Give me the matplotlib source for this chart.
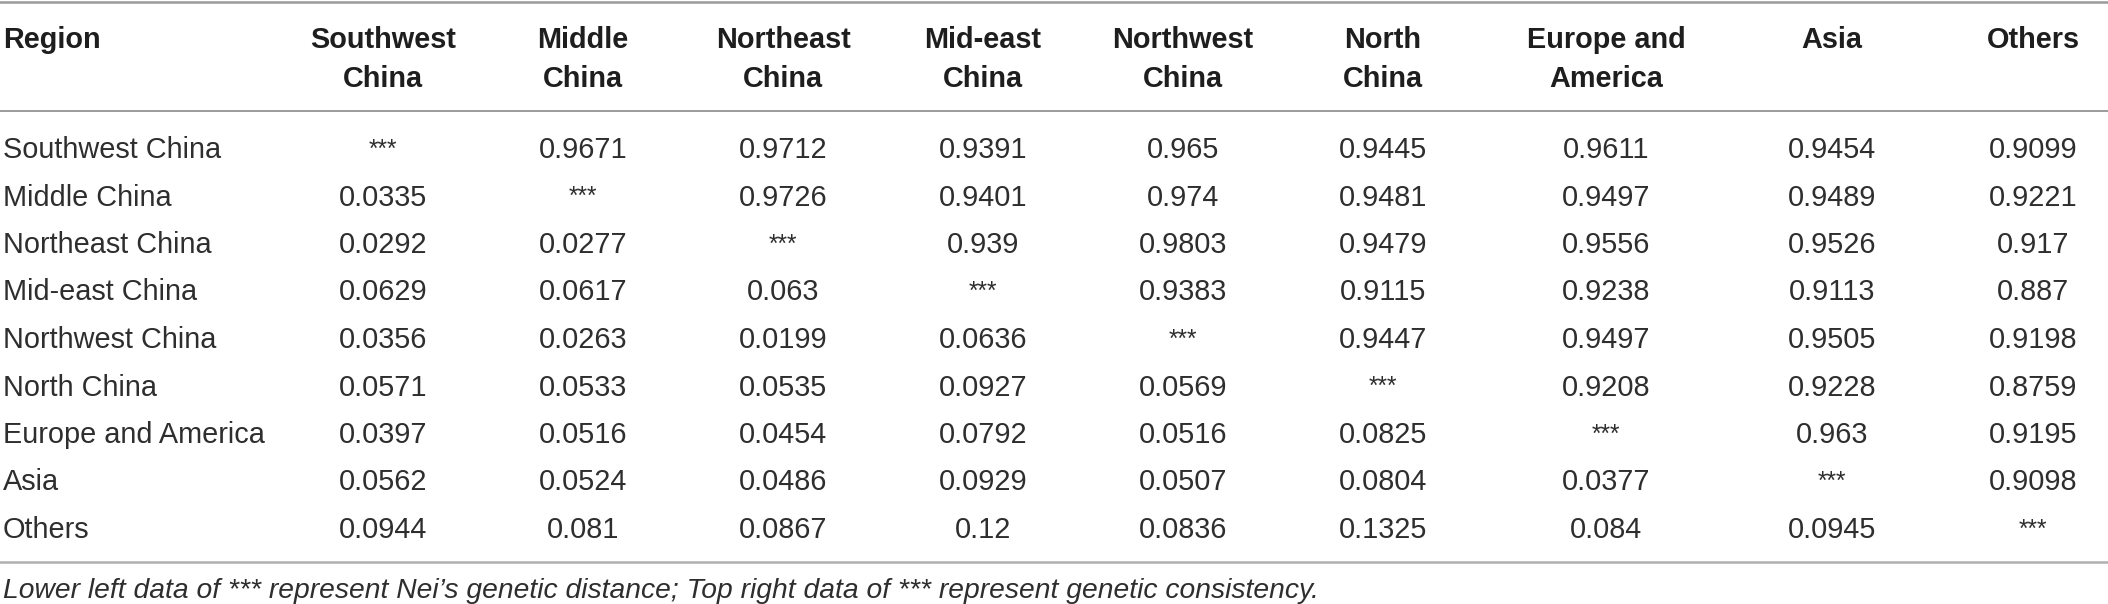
import matplotlib.pyplot as plt

plt.rcParams['font.family'] = ['Liberation Sans', 'DejaVu Sans']

regions = ["Southwest China", "Middle China", "Northeast China", "Mid-east China",
           "Northwest China", "North China", "Europe and America", "Asia", "Others"]
col_headers = ["Southwest\nChina", "Middle\nChina", "Northeast\nChina", "Mid-east\nChina",
               "Northwest\nChina", "North\nChina", "Europe and\nAmerica", "Asia", "Others"]

# lower left: Nei's genetic distance, upper right: genetic consistency
values = [
    ["***", "0.9671", "0.9712", "0.9391", "0.965", "0.9445", "0.9611", "0.9454", "0.9099"],
    ["0.0335", "***", "0.9726", "0.9401", "0.974", "0.9481", "0.9497", "0.9489", "0.9221"],
    ["0.0292", "0.0277", "***", "0.939", "0.9803", "0.9479", "0.9556", "0.9526", "0.917"],
    ["0.0629", "0.0617", "0.063", "***", "0.9383", "0.9115", "0.9238", "0.9113", "0.887"],
    ["0.0356", "0.0263", "0.0199", "0.0636", "***", "0.9447", "0.9497", "0.9505", "0.9198"],
    ["0.0571", "0.0533", "0.0535", "0.0927", "0.0569", "***", "0.9208", "0.9228", "0.8759"],
    ["0.0397", "0.0516", "0.0454", "0.0792", "0.0516", "0.0825", "***", "0.963", "0.9195"],
    ["0.0562", "0.0524", "0.0486", "0.0929", "0.0507", "0.0804", "0.0377", "***", "0.9098"],
    ["0.0944", "0.081", "0.0867", "0.12", "0.0836", "0.1325", "0.084", "0.0945", "***"],
]
footnote = ("Lower left data of *** represent Nei\u2019s genetic distance; "
            "Top right data of *** represent genetic consistency.")

W, H = 2108, 604
fig = plt.figure(figsize=(W / 100, H / 100), dpi=100)
ax = fig.add_axes([0, 0, 1, 1])
ax.set_xlim(0, W)
ax.set_ylim(H, 0)
ax.axis('off')

# layout in pixels
col_x = [383, 583, 783, 983, 1183, 1383, 1606, 1832, 2033]
head_y0, head_dy = 37, 39
row_y0, row_dy = 147, 47.5
fs = 20.8
head_col = '#1e1e1e'
body_col = '#2e2e2e'

ax.axhline(1.5, color='#9a9a9a', lw=1.8)
ax.axhline(111, color='#8a8a8a', lw=1.2)
ax.axhline(562, color='#b0b0b0', lw=1.8)

ax.text(3, head_y0, "Region", fontsize=fs, fontweight='bold', color=head_col,
        ha='left', va='center_baseline')
for x, h in zip(col_x, col_headers):
    for k, line in enumerate(h.split('\n')):
        ax.text(x, head_y0 + k * head_dy, line, fontsize=fs, fontweight='bold',
                color=head_col, ha='center', va='center_baseline')

for i, (name, row) in enumerate(zip(regions, values)):
    y = row_y0 + i * row_dy
    ax.text(3, y, name, fontsize=fs, color=body_col, ha='left', va='center_baseline')
    for x, v in zip(col_x, row):
        size = fs * 0.85 if v == "***" else fs
        ax.text(x, y, v, fontsize=size, color=body_col, ha='center', va='center_baseline')

ax.text(3, 588, footnote, fontsize=fs * 0.98, style='italic', color=body_col,
        ha='left', va='center_baseline')

fig.savefig('out.png', dpi=100)
